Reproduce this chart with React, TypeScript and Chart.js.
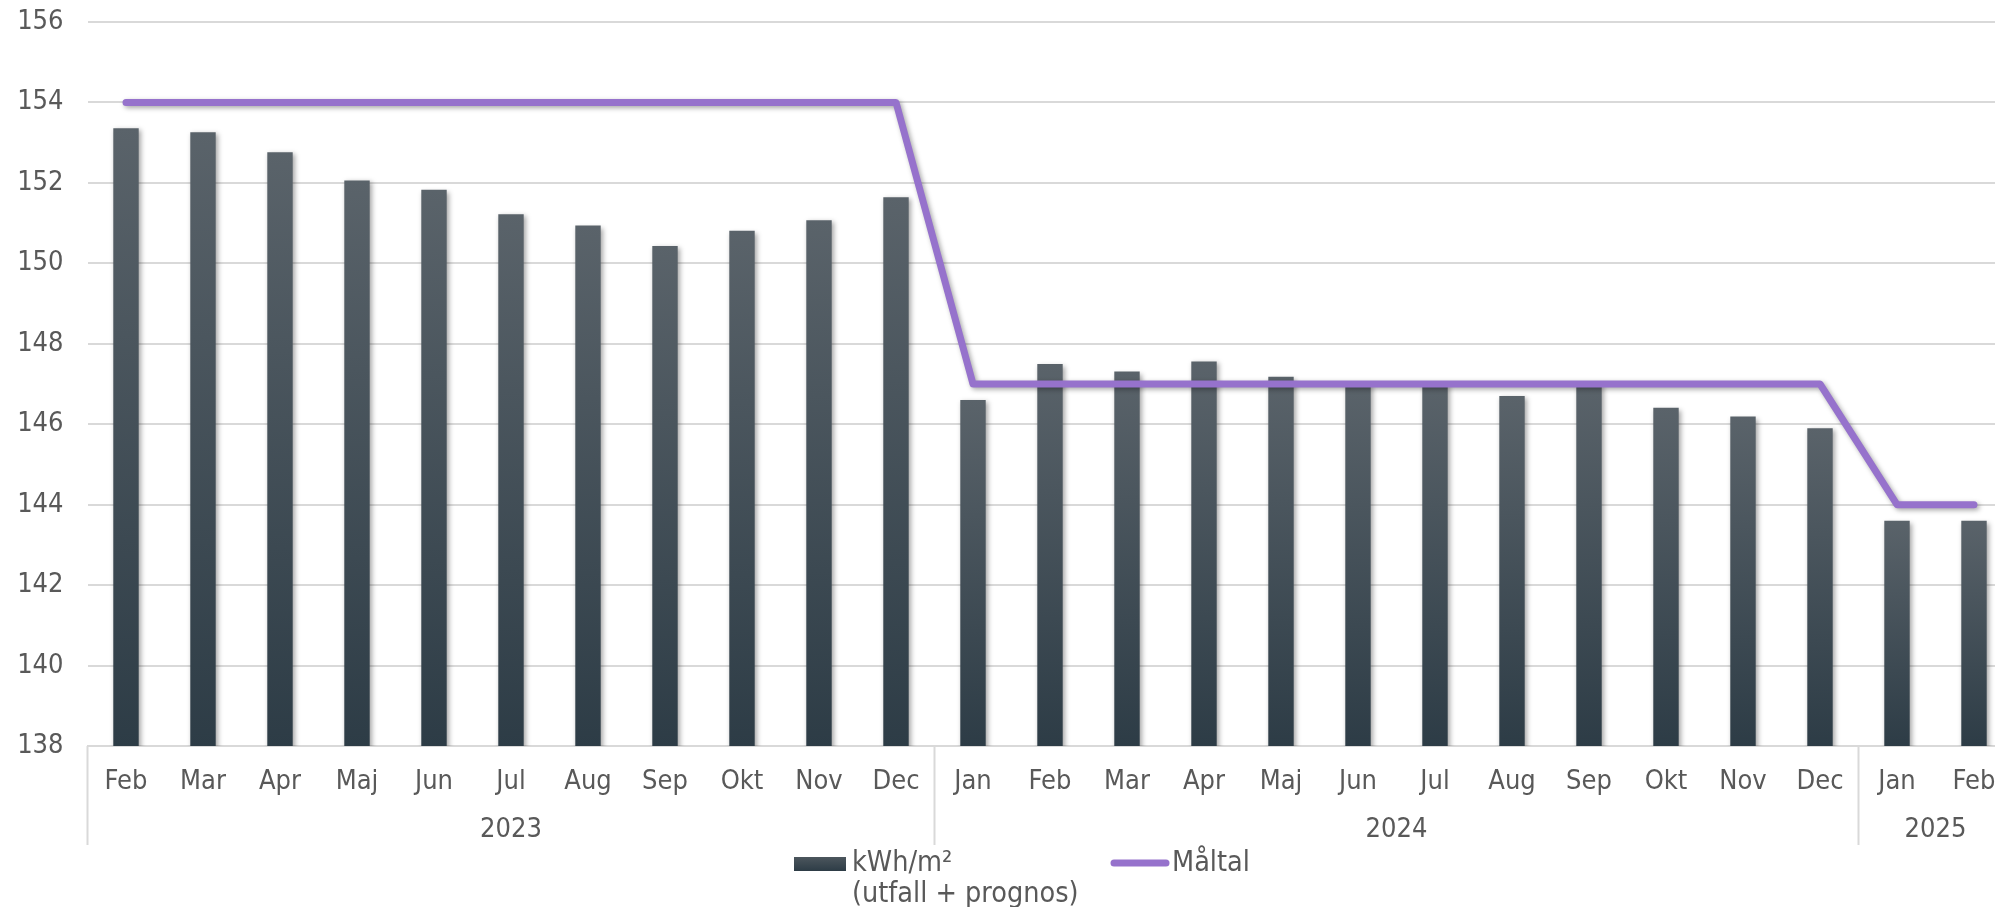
import React, { useEffect, useRef } from 'react';
import { Chart, registerables } from 'chart.js';

Chart.register(...registerables);

const FONT = "'DejaVu Sans Condensed', 'Liberation Sans', sans-serif";
const TEXT = '#595959';
const GRID = '#d9d9d9';
const PURPLE = '#9672cc';

const months = [
  'Feb', 'Mar', 'Apr', 'Maj', 'Jun', 'Jul', 'Aug', 'Sep', 'Okt', 'Nov', 'Dec',
  'Jan', 'Feb', 'Mar', 'Apr', 'Maj', 'Jun', 'Jul', 'Aug', 'Sep', 'Okt', 'Nov', 'Dec',
  'Jan', 'Feb',
];
const years = ['2023', '2024', '2025'];
const yearSpans = [11, 12, 2];

const kwh = [
  153.36, 153.26, 152.76, 152.06, 151.83, 151.22, 150.94, 150.43, 150.81, 151.07, 151.64,
  146.6, 147.5, 147.31, 147.56, 147.18, 147.0, 147.0, 146.7, 147.0, 146.41, 146.19, 145.9,
  143.6, 143.6,
];
const maltal = [
  154, 154, 154, 154, 154, 154, 154, 154, 154, 154, 154,
  147, 147, 147, 147, 147, 147, 147, 147, 147, 147, 147, 147,
  144, 144,
];
const yMin = 138;
const yMax = 156;
const yStep = 2;
const barLabel = ['kWh/m²', '(utfall + prognos)'];
const lineLabel = 'Måltal';

const shadowPlugin = {
  id: 'shadowPlugin',
  beforeDatasetDraw(chart: any) {
    const c = chart.ctx;
    c.save();
    c.shadowColor = 'rgba(0,0,0,0.35)';
    c.shadowBlur = 5;
    c.shadowOffsetX = 2;
    c.shadowOffsetY = 2;
  },
  afterDatasetDraw(chart: any) {
    chart.ctx.restore();
  },
};

const axisPlugin = {
  id: 'axisPlugin',
  afterDraw(chart: any) {
    const { ctx, chartArea: a, scales } = chart;
    const x = scales.x;
    const w = x.getPixelForValue(1) - x.getPixelForValue(0);
    ctx.save();
    ctx.strokeStyle = GRID;
    ctx.lineWidth = 2;
    const bounds: number[] = [x.getPixelForValue(0) - w / 2];
    let idx = 0;
    yearSpans.forEach((n) => {
      idx += n;
      bounds.push(x.getPixelForValue(idx - 1) + w / 2);
    });
    bounds.forEach((b) => {
      ctx.beginPath();
      ctx.moveTo(b, a.bottom);
      ctx.lineTo(b, a.bottom + 99);
      ctx.stroke();
    });
    ctx.fillStyle = TEXT;
    ctx.font = `27px ${FONT}`;
    ctx.textAlign = 'center';
    ctx.textBaseline = 'middle';
    years.forEach((y, i) => ctx.fillText(y, (bounds[i] + bounds[i + 1]) / 2, a.bottom + 84));

    // legend
    const g = ctx.createLinearGradient(0, 857, 0, 871);
    g.addColorStop(0, '#4c565d');
    g.addColorStop(1, '#2d3c46');
    ctx.fillStyle = g;
    ctx.fillRect(794, 857, 52, 14);
    ctx.fillStyle = TEXT;
    ctx.font = `28.5px ${FONT}`;
    ctx.textAlign = 'left';
    ctx.fillText(barLabel[0], 852, 864);
    ctx.fillText(barLabel[1], 852, 895);

    ctx.strokeStyle = PURPLE;
    ctx.lineWidth = 7;
    ctx.lineCap = 'round';
    ctx.beginPath();
    ctx.moveTo(1114, 863);
    ctx.lineTo(1166, 863);
    ctx.stroke();
    ctx.fillText(lineLabel, 1172, 864);
    ctx.restore();
  },
};

export default function App() {
  const ref = useRef<HTMLCanvasElement | null>(null);

  useEffect(() => {
    if (!ref.current) return;
    const chart = new Chart(ref.current, {
      type: 'bar',
      data: {
        labels: months,
        datasets: [
          {
            type: 'line',
            label: lineLabel,
            data: maltal,
            borderColor: PURPLE,
            borderWidth: 7,
            borderCapStyle: 'round',
            borderJoinStyle: 'round',
            pointRadius: 0,
            tension: 0,
            fill: false,
          } as any,
          {
            type: 'bar',
            label: barLabel.join(' '),
            data: kwh,
            categoryPercentage: 1,
            barPercentage: 0.33,
            backgroundColor: (c: any) => {
              const ch = c.chart;
              const area = ch.chartArea;
              if (!area || c.type !== 'data') return '#3d4a53';
              const top = ch.scales.y.getPixelForValue(c.raw);
              const grad = ch.ctx.createLinearGradient(0, top, 0, area.bottom);
              grad.addColorStop(0, '#5a636a');
              grad.addColorStop(1, '#2d3c46');
              return grad;
            },
          } as any,
        ],
      },
      options: {
        animation: false,
        responsive: false,
        devicePixelRatio: 1,
        events: [],
        layout: { padding: { left: 0, top: 22, right: 7.5, bottom: 0 } },
        plugins: {
          legend: { display: false },
          tooltip: { enabled: false },
        },
        scales: {
          x: {
            grid: { display: false, drawTicks: false },
            border: { display: true, color: GRID, width: 2 },
            ticks: {
              color: TEXT,
              font: { family: FONT, size: 27 },
              padding: 20,
              maxRotation: 0,
              autoSkip: false,
            },
            afterFit: (s: any) => {
              s.height = 161;
              s.paddingLeft = 0;
              s.paddingRight = 0;
            },
          },
          y: {
            min: yMin,
            max: yMax,
            ticks: {
              stepSize: yStep,
              color: TEXT,
              font: { family: FONT, size: 27 },
              padding: 24,
            },
            grid: { color: GRID, lineWidth: 2, drawTicks: false },
            border: { display: false },
            afterFit: (s: any) => {
              s.width = 87.5;
              s.paddingTop = 0;
              s.paddingBottom = 0;
            },
          },
        },
      } as any,
      plugins: [shadowPlugin, axisPlugin],
    });
    return () => chart.destroy();
  }, []);

  return (
    <div
      style={{
        position: 'fixed',
        left: 0,
        top: 0,
        width: 1995,
        height: 907,
        overflow: 'hidden',
        background: '#ffffff',
      }}
    >
      <canvas ref={ref} width={2020} height={907} style={{ display: 'block', width: 2020, height: 907 }} />
    </div>
  );
}
